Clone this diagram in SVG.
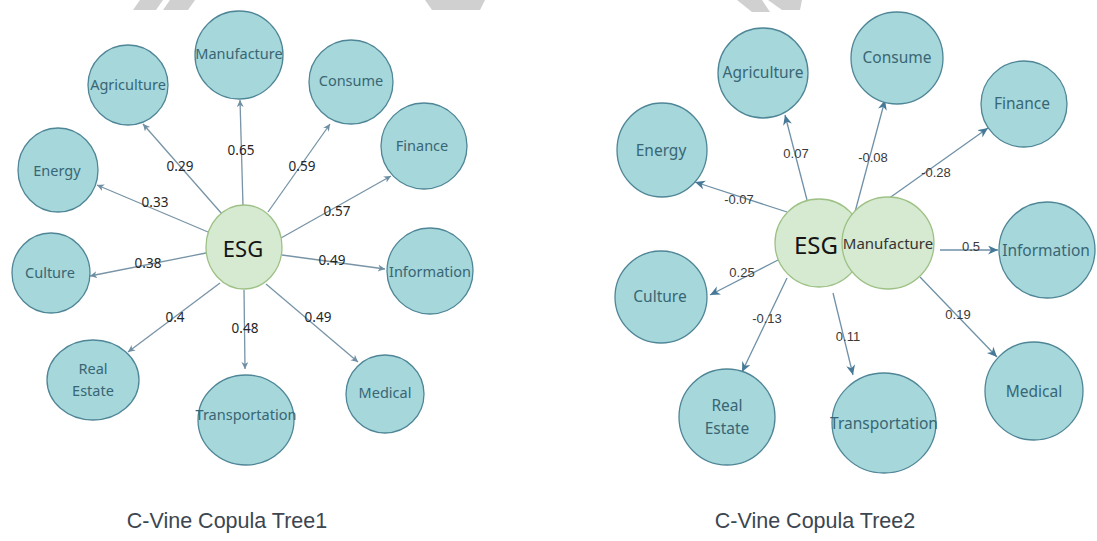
<svg xmlns="http://www.w3.org/2000/svg" width="1097" height="541" viewBox="0 0 1097 541">
  <style>
    .leaf { fill: #a6d7db; stroke: #4f8697; stroke-width: 1.3; }
    .root { fill: #d6e9d1; stroke: #9dc185; stroke-width: 1.3; }
    .lt { font-family: "Noto Sans", "Open Sans", sans-serif; font-size: 14.5px; fill: #386674; text-anchor: middle; dominant-baseline: central; }
    .rt { font-family: "Noto Sans", "Open Sans", sans-serif; font-size: 15.5px; fill: #386674; text-anchor: middle; dominant-baseline: central; }
    .esg { font-family: "Noto Sans", "Open Sans", sans-serif; font-size: 22px; fill: #141414; text-anchor: middle; dominant-baseline: central; }
    .e1 { stroke: #7894a6; stroke-width: 1.3; fill: none; marker-end: url(#a1); }
    .e2 { stroke: #6f91a7; stroke-width: 1.3; fill: none; marker-end: url(#a2); }
    .w1 { font-family: "Noto Sans", "Open Sans", sans-serif; font-size: 13.5px; fill: #262626; text-anchor: middle; dominant-baseline: central; }
    .w2 { font-family: "Liberation Sans", Arial, sans-serif; font-size: 13px; fill: #3a3a3a; text-anchor: middle; dominant-baseline: central; }
    .title { font-family: "Liberation Sans", Arial, sans-serif; font-size: 21.5px; fill: #3c4650; text-anchor: middle; }
    .mark { fill: #d0d0d0; }
  </style>
  <defs>
    <marker id="a1" markerUnits="userSpaceOnUse" markerWidth="8" markerHeight="8" refX="7" refY="3.5" orient="auto">
      <path d="M0,0 L7,3.5 L0,7 L2,3.5 z" fill="#6e8ea2"/>
    </marker>
    <marker id="a2" markerUnits="userSpaceOnUse" markerWidth="11" markerHeight="10" refX="10" refY="4.5" orient="auto">
      <path d="M0,0 L10,4.5 L0,9 L3,4.5 z" fill="#467997"/>
    </marker>
  </defs>

  <rect width="1097" height="541" fill="#ffffff"/>

  <!-- faint grey shapes along the top edge -->
  <g id="top-marks">
    <polygon class="mark" points="140,0 163,0 156,10 133,10"/>
    <polygon class="mark" points="170,0 195,0 188,10 163,10"/>
    <polygon class="mark" points="425,0 485,0 480,10 432,10"/>
    <polygon class="mark" points="737,0 762,0 770,12 752,12"/>
    <polygon class="mark" points="768,0 802,0 800,10 782,10"/>
  </g>

  <!-- ===== Tree 1 ===== -->
  <g id="connectors-tree1">
    <line class="e1" x1="222" y1="214" x2="143" y2="124"/>
    <line class="e1" x1="243" y1="206" x2="240" y2="100"/>
    <line class="e1" x1="268" y1="212" x2="330" y2="124"/>
    <line class="e1" x1="281" y1="238" x2="391" y2="176"/>
    <line class="e1" x1="208" y1="232" x2="97" y2="185"/>
    <line class="e1" x1="206" y1="253" x2="90" y2="276"/>
    <line class="e1" x1="282" y1="255" x2="385" y2="269"/>
    <line class="e1" x1="220" y1="283" x2="128" y2="352"/>
    <line class="e1" x1="244" y1="290" x2="245" y2="369"/>
    <line class="e1" x1="266" y1="284" x2="358" y2="362"/>
    <text class="w1" x="180" y="166">0.29</text>
    <text class="w1" x="241" y="150">0.65</text>
    <text class="w1" x="302" y="166">0.59</text>
    <text class="w1" x="155" y="202">0.33</text>
    <text class="w1" x="337" y="211">0.57</text>
    <text class="w1" x="148" y="263">0.38</text>
    <text class="w1" x="332" y="260">0.49</text>
    <text class="w1" x="175" y="317">0.4</text>
    <text class="w1" x="245" y="328">0.48</text>
    <text class="w1" x="318" y="317">0.49</text>
  </g>

  <g id="t1-esg"><ellipse class="root" cx="244" cy="247" rx="38" ry="42"/><text class="esg" x="243" y="248">ESG</text></g>
  <g id="t1-agriculture"><circle class="leaf" cx="128" cy="85" r="40"/><text class="lt" x="128" y="84">Agriculture</text></g>
  <g id="t1-manufacture"><circle class="leaf" cx="239" cy="55" r="44"/><text class="lt" x="239" y="53">Manufacture</text></g>
  <g id="t1-consume"><circle class="leaf" cx="351" cy="82" r="42"/><text class="lt" x="351" y="80">Consume</text></g>
  <g id="t1-finance"><circle class="leaf" cx="424" cy="146" r="43"/><text class="lt" x="422" y="145">Finance</text></g>
  <g id="t1-energy"><ellipse class="leaf" cx="58" cy="170" rx="40" ry="42"/><text class="lt" x="57" y="170">Energy</text></g>
  <g id="t1-culture"><ellipse class="leaf" cx="51" cy="273" rx="39" ry="40"/><text class="lt" x="50" y="272">Culture</text></g>
  <g id="t1-information"><circle class="leaf" cx="430" cy="271" r="43"/><text class="lt" x="430" y="271">Information</text></g>
  <g id="t1-realestate"><ellipse class="leaf" cx="93" cy="380" rx="46" ry="40"/><text class="lt" x="93" y="368">Real</text><text class="lt" x="93" y="390">Estate</text></g>
  <g id="t1-transportation"><ellipse class="leaf" cx="246" cy="420" rx="48" ry="45"/><text class="lt" x="246" y="414">Transportation</text></g>
  <g id="t1-medical"><circle class="leaf" cx="385" cy="394" r="39"/><text class="lt" x="385" y="392">Medical</text></g>

  <text class="title" x="227" y="528">C-Vine Copula Tree1</text>

  <!-- ===== Tree 2 ===== -->
  <g id="connectors-tree2">
    <line class="e2" x1="787" y1="212" x2="695" y2="182"/>
    <line class="e2" x1="807" y1="200" x2="785" y2="115"/>
    <line class="e2" x1="855" y1="212" x2="885" y2="100"/>
    <line class="e2" x1="888" y1="199" x2="988" y2="128"/>
    <line class="e2" x1="940" y1="250" x2="998" y2="250"/>
    <line class="e2" x1="778" y1="260" x2="710" y2="295"/>
    <line class="e2" x1="787" y1="278" x2="742" y2="372"/>
    <line class="e2" x1="833" y1="293" x2="853" y2="375"/>
    <line class="e2" x1="920" y1="277" x2="997" y2="357"/>
    <text class="w2" x="739" y="199">-0.07</text>
    <text class="w2" x="796" y="153">0.07</text>
    <text class="w2" x="873" y="157">-0.08</text>
    <text class="w2" x="936" y="172">-0.28</text>
    <text class="w2" x="971" y="246">0.5</text>
    <text class="w2" x="742" y="272">0.25</text>
    <text class="w2" x="767" y="318">-0.13</text>
    <text class="w2" x="848" y="336">0.11</text>
    <text class="w2" x="958" y="314">0.19</text>
  </g>

  <g id="t2-agriculture"><circle class="leaf" cx="763" cy="73" r="45"/><text class="rt" x="763" y="72">Agriculture</text></g>
  <g id="t2-consume"><circle class="leaf" cx="897" cy="58" r="46"/><text class="rt" x="897" y="57">Consume</text></g>
  <g id="t2-finance"><circle class="leaf" cx="1024" cy="104" r="43"/><text class="rt" x="1022" y="103">Finance</text></g>
  <g id="t2-energy"><ellipse class="leaf" cx="662" cy="150" rx="45" ry="47"/><text class="rt" x="661" y="150">Energy</text></g>
  <g id="t2-culture"><circle class="leaf" cx="661" cy="297" r="46"/><text class="rt" x="660" y="296">Culture</text></g>
  <g id="t2-information"><circle class="leaf" cx="1047" cy="250" r="48"/><text class="rt" x="1046" y="250">Information</text></g>
  <g id="t2-realestate"><circle class="leaf" cx="727" cy="417" r="48"/><text class="rt" x="727" y="405">Real</text><text class="rt" x="727" y="428">Estate</text></g>
  <g id="t2-transportation"><ellipse class="leaf" cx="884" cy="423" rx="52" ry="50"/><text class="rt" x="884" y="423">Transportation</text></g>
  <g id="t2-medical"><circle class="leaf" cx="1034" cy="391" r="49"/><text class="rt" x="1034" y="391">Medical</text></g>
  <g id="t2-esg"><circle class="root" cx="819" cy="243" r="44"/><text class="esg" x="816" y="244" style="font-size:24px">ESG</text></g>
  <g id="t2-manufacture"><circle class="root" cx="888" cy="243" r="46"/><text class="rt" x="888" y="243" style="fill:#333;font-size:15px">Manufacture</text></g>

  <text class="title" x="815" y="528">C-Vine Copula Tree2</text>
</svg>
